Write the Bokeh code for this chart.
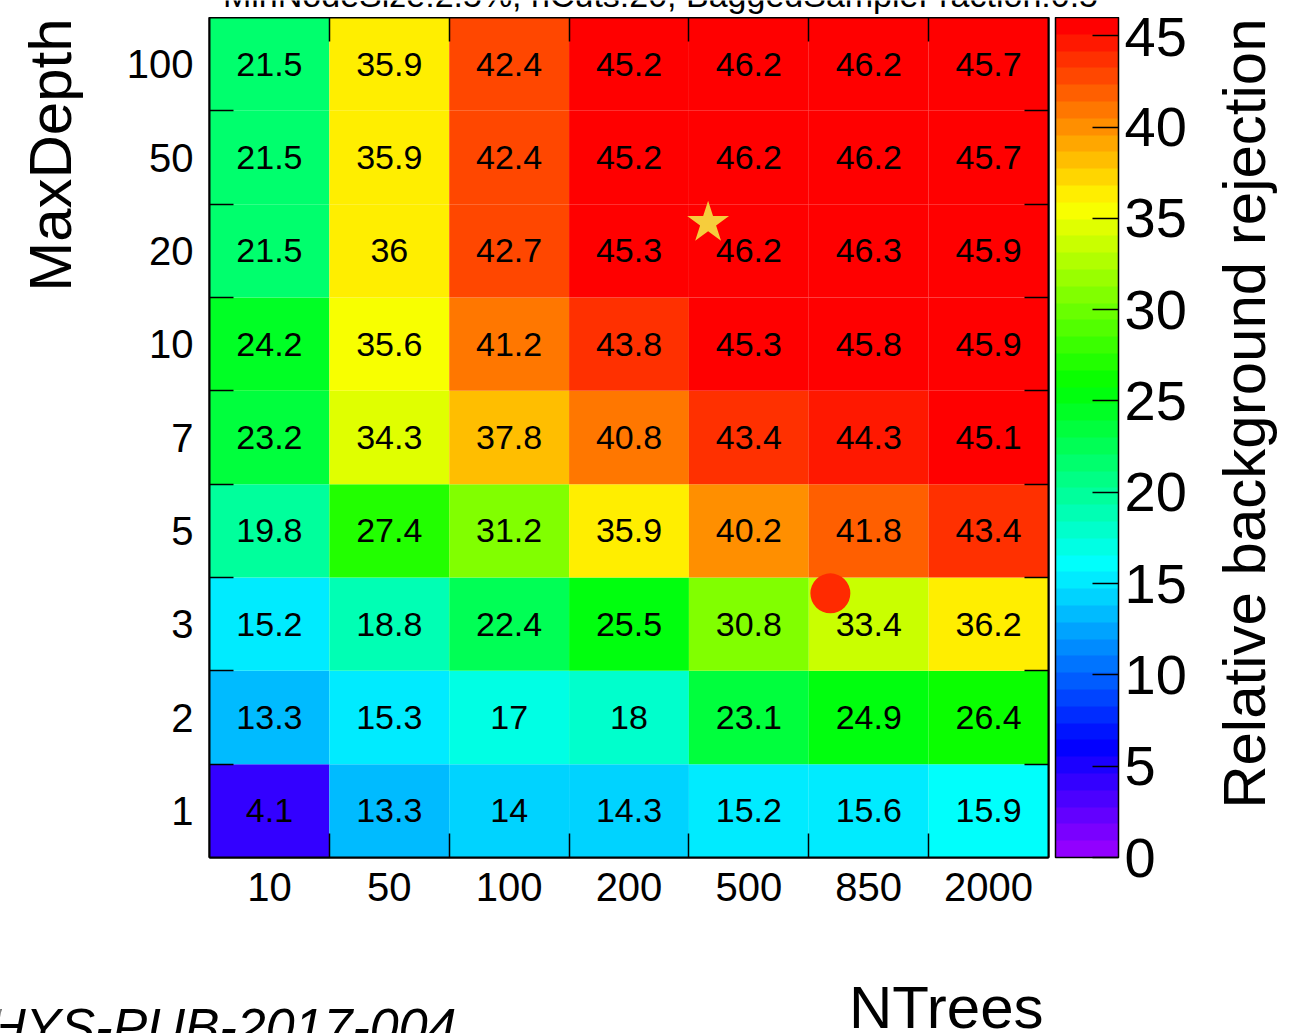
import colorsys
import math
from bokeh.plotting import figure
from bokeh.layouts import column, row
from bokeh.models import (LinearColorMapper, ColorBar, FixedTicker, LinearAxis,
                          ColumnDataSource, Range1d)
from bokeh.transform import transform
from bokeh.core.properties import value
from bokeh.embed import file_html
from bokeh.resources import INLINE

# ---------------- data ----------------
ntrees = ["10", "50", "100", "200", "500", "850", "2000"]
max_depth = ["1", "2", "3", "5", "7", "10", "20", "50", "100"]   # bottom -> top
# rows: MaxDepth (bottom -> top), columns: NTrees
rejection = [
    [4.1, 13.3, 14, 14.3, 15.2, 15.6, 15.9],
    [13.3, 15.3, 17, 18, 23.1, 24.9, 26.4],
    [15.2, 18.8, 22.4, 25.5, 30.8, 33.4, 36.2],
    [19.8, 27.4, 31.2, 35.9, 40.2, 41.8, 43.4],
    [23.2, 34.3, 37.8, 40.8, 43.4, 44.3, 45.1],
    [24.2, 35.6, 41.2, 43.8, 45.3, 45.8, 45.9],
    [21.5, 36, 42.7, 45.3, 46.2, 46.3, 45.9],
    [21.5, 35.9, 42.4, 45.2, 46.2, 46.2, 45.7],
    [21.5, 35.9, 42.4, 45.2, 46.2, 46.2, 45.7],
]
z_min, z_max = 0, 46
cbar_ticks = [0, 5, 10, 15, 20, 25, 30, 35, 40, 45]
# marker positions in cell-index units (x: NTrees bins, y: MaxDepth bins)
star_x, star_y = [4.16], [6.80]
dot_x, dot_y = [5.18], [2.83]

title_text = "MinNodeSize:2.5%, nCuts:20, BaggedSampleFraction:0.5"
x_title = "NTrees"
y_title = "MaxDepth"
z_title = "Relative background rejection"
note_text = "ATL-PHYS-PUB-2017-004"

FONT = "Liberation Sans"

# ROOT "pretty palette" (violet -> red), 50 colours
palette = []
for i in range(50):
    h = 280 - (i + 1) * 280 / 50
    r, g, b = colorsys.hls_to_rgb(h / 360.0, 0.5, 1.0)
    palette.append("#%02x%02x%02x" % (round(r * 255), round(g * 255), round(b * 255)))

mapper = LinearColorMapper(palette=palette, low=z_min, high=z_max)

xs, ys, vals, txt = [], [], [], []
for j, rw in enumerate(rejection):
    for i, v in enumerate(rw):
        xs.append(i + 0.5)
        ys.append(j + 0.5)
        vals.append(v)
        txt.append(f"{v:g}")
src = ColumnDataSource(dict(x=xs, y=ys, v=vals, t=txt))

# ---------------- layout sizes ----------------
W, H = 1297, 1033
TOP_H, BOT_H = 17, 73
LEFT_W, RIGHT_W = 100, 97
MID_H = H - TOP_H - BOT_H            # 943
MAIN_W = W - LEFT_W - RIGHT_W        # 1100

p = figure(x_range=Range1d(0, len(ntrees)), y_range=Range1d(0, len(max_depth)),
           frame_width=839, frame_height=840,
           min_border_left=109, min_border_right=MAIN_W - 109 - 839,
           min_border_top=0, min_border_bottom=MID_H - 840,
           x_axis_type=None, y_axis_type=None,
           output_backend="svg", toolbar_location=None)
p.grid.visible = False
p.outline_line_color = "black"
p.outline_line_width = 2
p.background_fill_color = "white"
p.border_fill_color = "white"

p.rect(x="x", y="y", width=1, height=1, source=src,
       fill_color=transform("v", mapper), line_color=None)
p.text(x="x", y="y", text="t", source=src, text_font=value(FONT),
       text_font_size="34px", text_align="center", text_baseline="middle",
       text_color="black")

p.scatter(star_x, star_y, marker="star", size=44, fill_color="#f6cd3c",
          line_color=None)
p.scatter(dot_x, dot_y, marker="circle", size=40, fill_color="#ff2a00",
          line_color=None)

# ---------------- axes ----------------
def make_axis(n, labels, show_labels, standoff, gap=0):
    if show_labels:
        t = FixedTicker(ticks=[k + 0.5 for k in range(n)],
                        minor_ticks=list(range(1, n)))
    elif gap:
        t = FixedTicker(ticks=[0.5], minor_ticks=list(range(1, n)))
    else:
        t = FixedTicker(ticks=[], minor_ticks=list(range(1, n)))
    ax = LinearAxis(ticker=t)
    if show_labels:
        ax.major_label_overrides = {k + 0.5: labels[k] for k in range(n)}
        ax.major_label_text_font_size = "40px"
    else:
        ax.major_label_overrides = {0.5: ""}
        ax.major_label_text_font_size = "1px"
    ax.axis_line_color = "black"
    ax.axis_line_width = 2
    ax.major_tick_in = 0
    ax.major_tick_out = gap
    ax.major_tick_line_color = None if gap else "black"
    ax.minor_tick_in = 24
    ax.minor_tick_out = 0
    ax.minor_tick_line_color = "black"
    ax.minor_tick_line_width = 1.5
    ax.major_label_text_font = FONT
    ax.major_label_text_color = "black"
    ax.major_label_standoff = standoff
    return ax

p.add_layout(make_axis(len(ntrees), ntrees, True, 15), "below")
p.add_layout(make_axis(len(ntrees), ntrees, False, 0), "above")
p.add_layout(make_axis(len(max_depth), max_depth, True, 16), "left")
p.add_layout(make_axis(len(max_depth), max_depth, False, 0, gap=7), "right")

cb = ColorBar(color_mapper=mapper, ticker=FixedTicker(ticks=cbar_ticks),
              width=63, height=840, padding=0, margin=0, location="top_left",
              label_standoff=6, major_label_text_font=FONT,
              major_label_text_font_size="56px", major_label_text_color="black",
              major_tick_in=26, major_tick_out=0, major_tick_line_color="black",
              major_tick_line_width=1.5, minor_tick_line_color=None,
              bar_line_color="black", bar_line_width=1.5,
              background_fill_color=None, border_line_color=None)
p.add_layout(cb, "right")

# ---------------- text strips (clipped at the page edges like the original) ----
def strip(w, h):
    f = figure(width=w, height=h, x_range=Range1d(0, w), y_range=Range1d(0, h),
               min_border=0, min_border_left=0, min_border_right=0,
               min_border_top=0, min_border_bottom=0,
               x_axis_type=None, y_axis_type=None,
               output_backend="svg", toolbar_location=None)
    f.grid.visible = False
    f.outline_line_color = None
    f.background_fill_color = "white"
    f.border_fill_color = "white"
    return f

ASC = 0.905   # ascent of the font, in em
DESC = 0.212  # descent of the font, in em

# title: baseline at page y = 6 (mostly above the page)
top = strip(W, TOP_H)
top.text(x=[660], y=[TOP_H - (6 + DESC * 34)], text=[title_text],
         text_font=value(FONT), text_font_size="34px", text_align="center",
         text_baseline="bottom", text_color="black")

# y title: baseline at page x = 71, ending at the top
left = strip(LEFT_W, MID_H)
left.text(x=[71 - ASC * 60], y=[MID_H - 1], text=[y_title], text_font=value(FONT),
          text_font_size="60px", text_align="right", text_baseline="top",
          angle=math.pi / 2, text_color="black")

# z title: baseline at page x = 1265, ending at the top
right = strip(RIGHT_W, MID_H)
right.text(x=[1265 - ASC * 60 - (W - RIGHT_W)], y=[MID_H - 1], text=[z_title],
           text_font=value(FONT), text_font_size="60px", text_align="right",
           text_baseline="top", angle=math.pi / 2, text_color="black")

# x title: baseline at page y = 1028, right end at x = 1043
bottom = strip(W, BOT_H)
bottom.text(x=[1043], y=[BOT_H - (1028 - ASC * 60 - (H - BOT_H))], text=[x_title],
            text_font=value(FONT), text_font_size="60px", text_align="right",
            text_baseline="top", text_color="black")
bottom.text(x=[456], y=[BOT_H - (997 - (H - BOT_H))], text=[note_text],
            text_font=value(FONT), text_font_size="52px", text_font_style="italic",
            text_align="right", text_baseline="top", text_color="black")

layout = column(top, row(left, p, right, spacing=0), bottom, spacing=0)

open("out.html", "w").write(file_html(layout, INLINE))
